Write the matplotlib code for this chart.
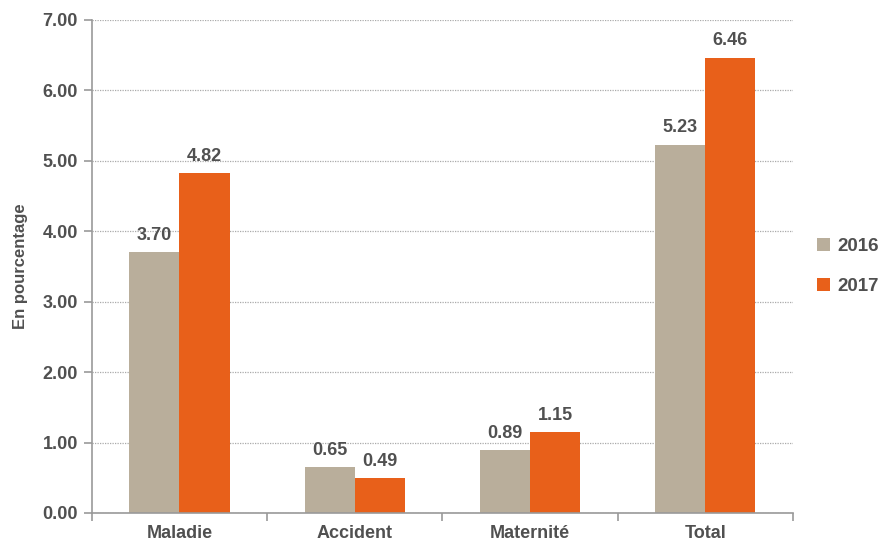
import numpy as np
import matplotlib.pyplot as plt
from matplotlib.ticker import FixedLocator

plt.rcParams['font.family'] = ['Liberation Sans Narrow', 'Liberation Sans', 'DejaVu Sans']

# Taux par catégorie
categories = ['Maladie', 'Accident', 'Maternité', 'Total']
years = ['2016', '2017']
vals_2016 = [3.70, 0.65, 0.89, 5.23]
vals_2017 = [4.82, 0.49, 1.15, 6.46]
colors = ['#B9AE9B', '#E8601A']
txt = '#505050'

fig = plt.figure(figsize=(8.82, 5.51), dpi=100)
ax = fig.add_axes([0.104, 0.069, 0.795, 0.895])

x = np.arange(len(categories))
w = 0.286
b1 = ax.bar(x - w / 2, vals_2016, w, color=colors[0], label=years[0])
b2 = ax.bar(x + w / 2, vals_2017, w, color=colors[1], label=years[1])

for bars, vals in [(b1, vals_2016), (b2, vals_2017)]:
    for r, v in zip(bars, vals):
        ax.text(r.get_x() + r.get_width() / 2, v + 0.12, f'{v:.2f}',
                ha='center', va='bottom', fontsize=13, fontweight='bold', color=txt)

ax.set_xlim(-0.5, len(categories) - 0.5)
ax.set_ylim(0, 7)
ax.set_yticks(np.arange(0, 7.01, 1))
ax.set_yticklabels([f'{t:.2f}' for t in np.arange(0, 7.01, 1)])
ax.set_xticks(x)
ax.set_xticklabels(categories)
ax.xaxis.set_minor_locator(FixedLocator(np.arange(-0.5, len(categories), 1)))
ax.tick_params(axis='x', which='major', length=0, pad=9)
ax.tick_params(axis='x', which='minor', length=6, color='#999999', width=1.2)
ax.tick_params(axis='y', length=6, color='#999999', width=1.2, pad=4)
for lab in ax.get_xticklabels() + ax.get_yticklabels():
    lab.set_fontsize(13)
    lab.set_fontweight('bold')
    lab.set_color(txt)

ax.grid(axis='y', linestyle=(0, (1, 1)), color='#AAAAAA', linewidth=0.9)
ax.set_axisbelow(True)
for s in ['top', 'right']:
    ax.spines[s].set_visible(False)
for s in ['left', 'bottom']:
    ax.spines[s].set_color('#999999')
    ax.spines[s].set_linewidth(1.2)

ax.set_ylabel('En pourcentage', fontsize=12, fontweight='bold', color=txt, labelpad=10)

leg = ax.legend(loc='center left', bbox_to_anchor=(1.01, 0.5), frameon=False,
                handlelength=0.7, handleheight=0.7, handletextpad=0.4,
                labelspacing=1.2, prop={'size': 13.5, 'weight': 'bold'})
for t in leg.get_texts():
    t.set_color(txt)

fig.savefig('out.png', dpi=100)
